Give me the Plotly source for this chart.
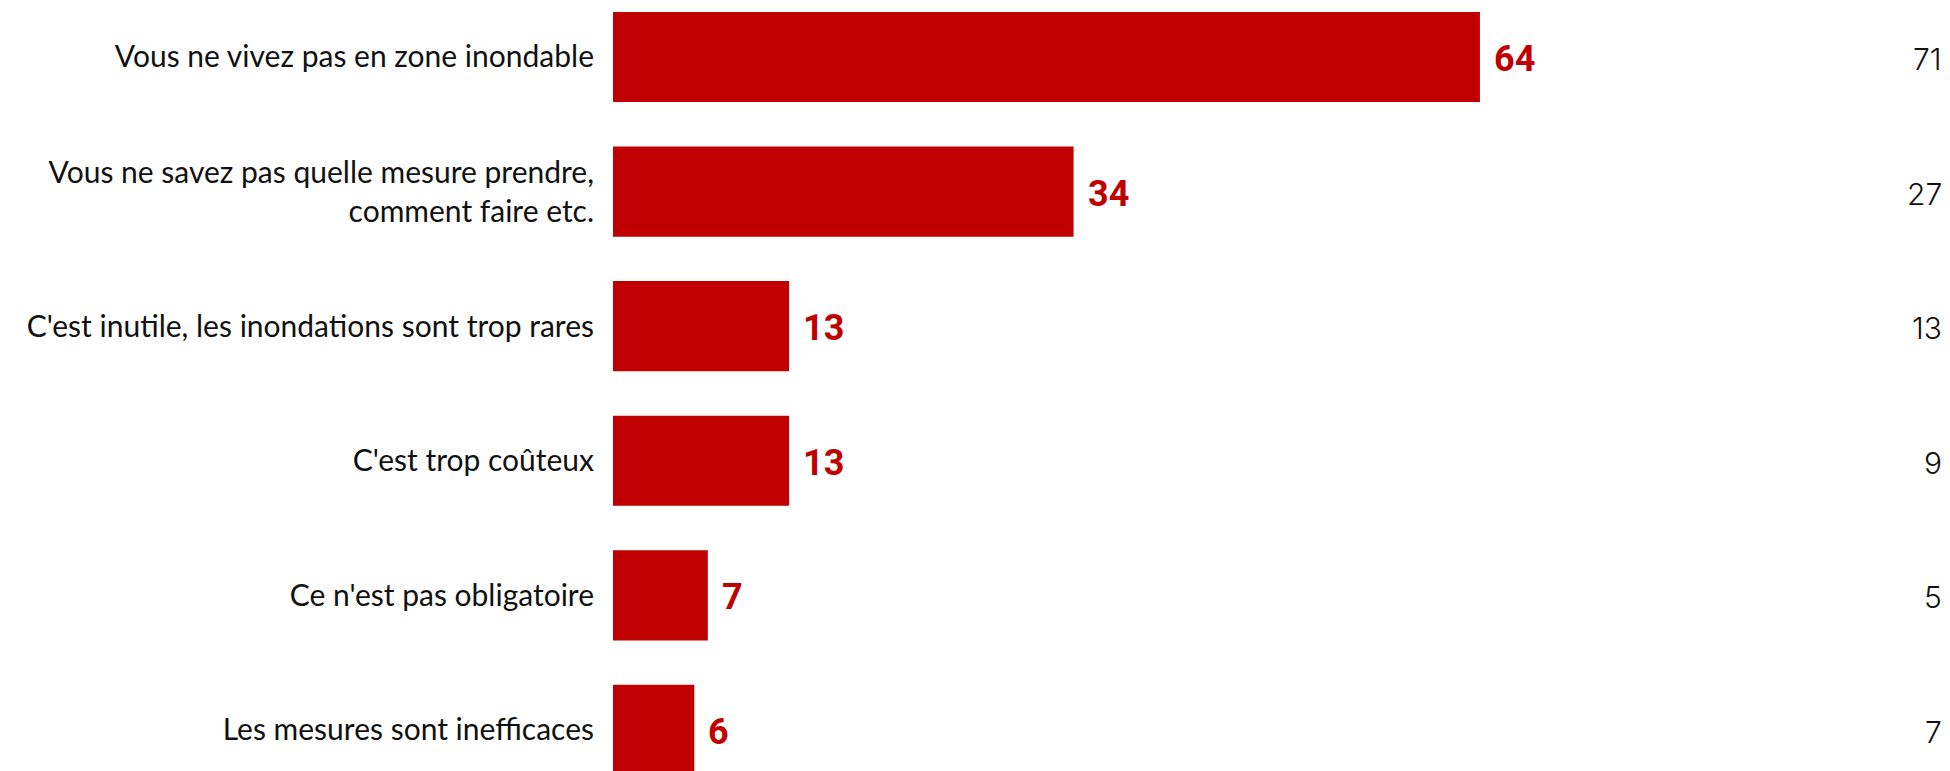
import plotly.graph_objects as go

categories = [
    "Vous ne vivez pas en zone inondable",
    "Vous ne savez pas quelle mesure prendre,<br>comment faire etc.",
    "C'est inutile, les inondations sont trop rares",
    "C'est trop coûteux",
    "Ce n'est pas obligatoire",
    "Les mesures sont inefficaces",
]
values = [64, 34, 13, 13, 7, 6]
compare_values = [71, 27, 13, 9, 5, 7]

RED = "#C00000"

fig = go.Figure()
fig.add_trace(go.Bar(
    x=values,
    y=categories,
    orientation="h",
    width=0.67,
    marker=dict(color=RED, line=dict(width=0)),
    hoverinfo="skip",
))

annotations = []
for cat, v in zip(categories, values):
    annotations.append(dict(
        x=v, y=cat, xref="x", yref="y",
        text=str(v), showarrow=False,
        xanchor="left", yanchor="middle", xshift=12, yshift=-2,
        font=dict(family="Roboto", size=36, color=RED, weight="bold"),
    ))
for cat, c in zip(categories, compare_values):
    annotations.append(dict(
        x=1, y=cat, xref="paper", yref="y",
        text=str(c), showarrow=False,
        xanchor="right", yanchor="middle", xshift=-6, yshift=-2,
        font=dict(family="Inter", size=30, color="#111111", weight=300),
    ))

fig.update_layout(
    width=1942, height=763,
    margin=dict(l=605, r=0, t=0, b=0),
    paper_bgcolor="white", plot_bgcolor="white",
    showlegend=False,
    annotations=annotations,
    xaxis=dict(range=[0, 98.7], visible=False, fixedrange=True),
    yaxis=dict(
        type="category",
        range=[5.305, -0.364],
        showgrid=False, zeroline=False, showline=False,
        ticks="", ticklabelstandoff=18,
        tickfont=dict(family="Lato", size=30, color="#111111"),
        fixedrange=True,
    ),
)

fig.write_html("out.html", config={"displayModeBar": False})
